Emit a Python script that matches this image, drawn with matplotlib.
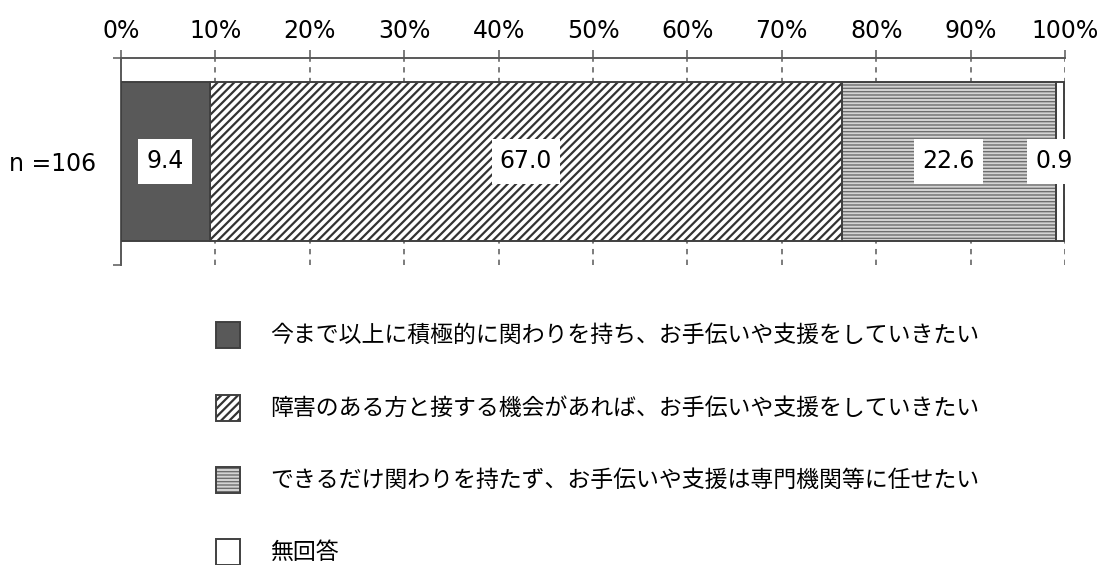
import matplotlib.pyplot as plt
from matplotlib.patches import Rectangle
from matplotlib.path import Path

plt.rcParams['font.family'] = ['DejaVu Sans', 'Noto Sans CJK JP']

group_label = "n =106"
categories = [
    "今まで以上に積極的に関わりを持ち、お手伝いや支援をしていきたい",
    "障害のある方と接する機会があれば、お手伝いや支援をしていきたい",
    "できるだけ関わりを持たず、お手伝いや支援は専門機関等に任せたい",
    "無回答",
]
values = [9.4, 67.0, 22.6, 0.9]
tick_values = list(range(0, 101, 10))
tick_labels = [f"{t}%" for t in tick_values]

faces = ["#595959", "white", "#d4d4d4", "white"]
hatches = [None, "////", "-----", None]
hatch_cols = ["#595959", "#333333", "#6e6e6e", "#404040"]
hatch_lw = [1.0, 1.6, 1.0, 1.0]
edge = "#404040"


def label_box(x0, y0, width, height, mutation_size):
    # white box around data labels, a bit taller than wide padding
    px, py = 0.35 * mutation_size, 0.45 * mutation_size
    x0, y0 = x0 - px, y0 - py
    x1, y1 = x0 + width + 2 * px, y0 + height + 2 * py
    return Path([(x0, y0), (x1, y0), (x1, y1), (x0, y1), (x0, y0)],
                closed=True)


fig = plt.figure(figsize=(11.02, 5.65), dpi=100)
ax = fig.add_axes([121 / 1102, 1 - 265 / 565, 944 / 1102, 207 / 565])

bar_h = 159 / 207
left = 0
for v, fc, h, hc, hl in zip(values, faces, hatches, hatch_cols, hatch_lw):
    # fill (hatch colour comes from edgecolor), then the outline on top
    b = ax.barh(0.5, v, left=left, height=bar_h, color=fc, hatch=h,
                edgecolor=hc, linewidth=0, zorder=2)
    for p in b:
        if hasattr(p, "set_hatch_linewidth"):
            p.set_hatch_linewidth(hl)
    ax.barh(0.5, v, left=left, height=bar_h, fill=False,
            edgecolor=edge, linewidth=1.4, zorder=3)
    xc = left + v / 2
    if v < 2:
        xc = left + v / 2 - 0.6
    ax.text(xc, 0.5, f"{v:.1f}", ha="center", va="center", fontsize=17,
            color="black", zorder=5,
            bbox=dict(boxstyle=label_box, fc="white", ec="none"))
    left += v

ax.set_xlim(0, 100)
ax.set_ylim(0, 1)
ax.xaxis.tick_top()
ax.set_xticks(tick_values)
ax.set_xticklabels(tick_labels, fontsize=17, color="black")
ax.tick_params(axis="x", direction="out", length=6, width=1.1,
               color="#595959", pad=5)
ax.set_yticks([0, 1])
ax.set_yticklabels(["", ""])
ax.tick_params(axis="y", direction="out", length=6, width=1.1, color="#595959")
ax.set_yticks([0.5], minor=True)
ax.set_yticklabels([group_label], minor=True, fontsize=17)
ax.tick_params(axis="y", which="minor", length=0, pad=18)

ax.grid(axis="x", color="#595959", linestyle=(0, (3.5, 3.5)), linewidth=1.1,
        zorder=1)
ax.set_axisbelow(True)
for s in ["right", "bottom"]:
    ax.spines[s].set_visible(False)
for s in ["top", "left"]:
    ax.spines[s].set_color("#595959")
    ax.spines[s].set_linewidth(1.4)

# legend rows below the bar
row_y = [335, 408, 480, 552]
for lab, fc, h, hc, hl, y in zip(categories, faces, hatches, hatch_cols,
                                 hatch_lw, row_y):
    r = Rectangle((216 / 1102, 1 - (y + 13) / 565), 24 / 1102, 26 / 565,
                  transform=fig.transFigure, facecolor=fc, hatch=h,
                  edgecolor=hc, linewidth=0)
    if hasattr(r, "set_hatch_linewidth"):
        r.set_hatch_linewidth(hl)
    fig.add_artist(r)
    fig.add_artist(Rectangle((216 / 1102, 1 - (y + 13) / 565), 24 / 1102,
                             26 / 565, transform=fig.transFigure, fill=False,
                             edgecolor=edge, linewidth=1.4))
    fig.text(270 / 1102, 1 - y / 565, lab, fontsize=16.5, va="center",
             ha="left", family=["Noto Sans CJK JP", "DejaVu Sans"])

fig.savefig("out.png", dpi=100)
